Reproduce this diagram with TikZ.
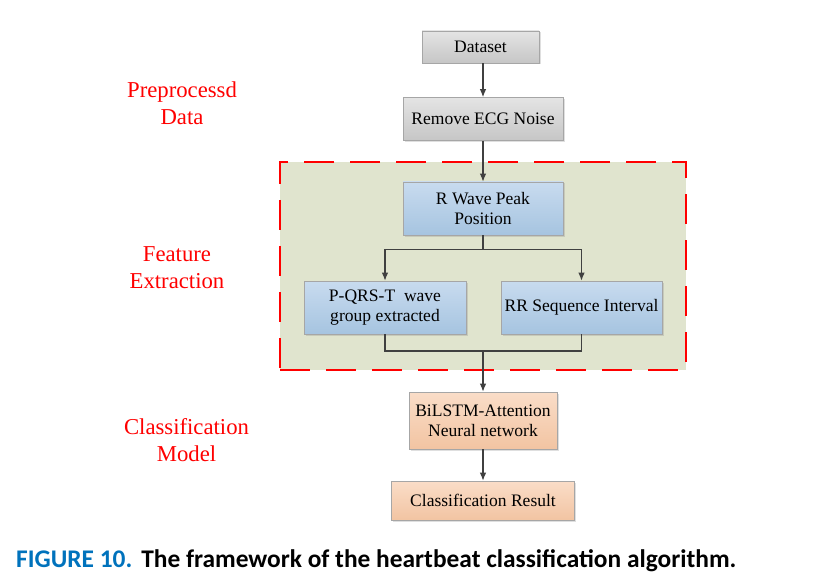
\documentclass[tikz,border=0pt]{standalone}
\usepackage{fontspec}
\setmainfont{Liberation Serif}
\newfontfamily\capfont{Carlito}
\usetikzlibrary{arrows.meta}
\usetikzlibrary{shadows}
\tikzset{>={Latex[length=8bp,width=6.5bp]}}
\definecolor{arrowgray}{RGB}{64,64,64}
\definecolor{featgreen}{RGB}{224,228,206}
\definecolor{capblue}{RGB}{0,114,188}
\definecolor{graytop}{RGB}{228,228,228}
\definecolor{graybot}{RGB}{198,198,198}
\definecolor{bluetop}{RGB}{200,219,239}
\definecolor{bluebot}{RGB}{166,196,224}
\definecolor{orangetop}{RGB}{250,221,200}
\definecolor{orangebot}{RGB}{242,196,162}
\tikzstyle{box}=[draw=black!35,line width=0.6bp,align=center,inner sep=2bp,
  font=\fontsize{17.6}{20}\selectfont,
  drop shadow={shadow xshift=1.5bp,shadow yshift=-1.5bp,opacity=0.25}]
\tikzstyle{graybox}=[box,top color=graytop,bottom color=graybot]
\tikzstyle{bluebox}=[box,top color=bluetop,bottom color=bluebot]
\tikzstyle{orangebox}=[box,top color=orangetop,bottom color=orangebot]
\tikzstyle{stage}=[text=red,align=center,font=\fontsize{22.8}{27}\selectfont]
\tikzstyle{flow}=[draw=arrowgray,line width=1.2bp]

\begin{document}
\begin{tikzpicture}[x=1bp,y=-1bp]
  \useasboundingbox (0,0) rectangle (818,586);
  % dashed feature extraction region
  \node[draw=red,fill=featgreen,line width=2bp,dash pattern=on 30bp off 16bp,
    minimum width=406bp,minimum height=208bp] (feat) at (483,266) {};

  \node[graybox,minimum width=117bp,minimum height=32bp] (dataset) at (480.5,47) {Dataset};
  \node[graybox,minimum width=160bp,minimum height=43bp] (noise) at (483,119) {Remove ECG Noise};
  \node[bluebox,minimum width=160bp,minimum height=53bp] (rwave) at (483,208.5) {R Wave Peak\\Position};
  \node[bluebox,minimum width=162bp,minimum height=53bp] (pqrst) at (385,307.5) {P-QRS-T\ \ wave\\group extracted};
  \node[bluebox,minimum width=161bp,minimum height=53bp] (rr) at (581.5,307.5) {RR Sequence Interval};
  \node[orangebox,minimum width=148bp,minimum height=57bp] (bilstm) at (483,420.5) {BiLSTM-Attention\\Neural network};
  \node[orangebox,minimum width=183bp,minimum height=39bp] (result) at (483,500.5) {Classification Result};

  \node[stage] (pre) at (182,103) {Preprocessd\\Data};
  \node[stage] (fe) at (177,268) {Feature\\Extraction};
  \node[stage] (cm) at (186.5,440) {Classification\\Model};

  \coordinate (split) at (483,249.3);
  \coordinate (merge) at (483,351);
  \draw[flow,->] (dataset.south -| noise.north) -- (noise.north);
  \draw[flow,->] (noise) -- (rwave);
  \draw[flow] (rwave) -- (split);
  \draw[flow,->] (split) -| (pqrst.north);
  \draw[flow,->] (split) -| (rr.north);
  \draw[flow] (pqrst.south) |- (merge);
  \draw[flow] (rr.south) |- (merge);
  \draw[flow,->] (merge) -- (bilstm.north);
  \draw[flow,->] (bilstm) -- (result);

  \node[anchor=base west,inner sep=0pt,font=\capfont\bfseries\fontsize{25.5}{28}\selectfont] (caption) at (16,567)
    {\textcolor{capblue}{FIGURE 10.}\hspace{9bp}The framework of the heartbeat classification algorithm.};
\end{tikzpicture}
\end{document}
